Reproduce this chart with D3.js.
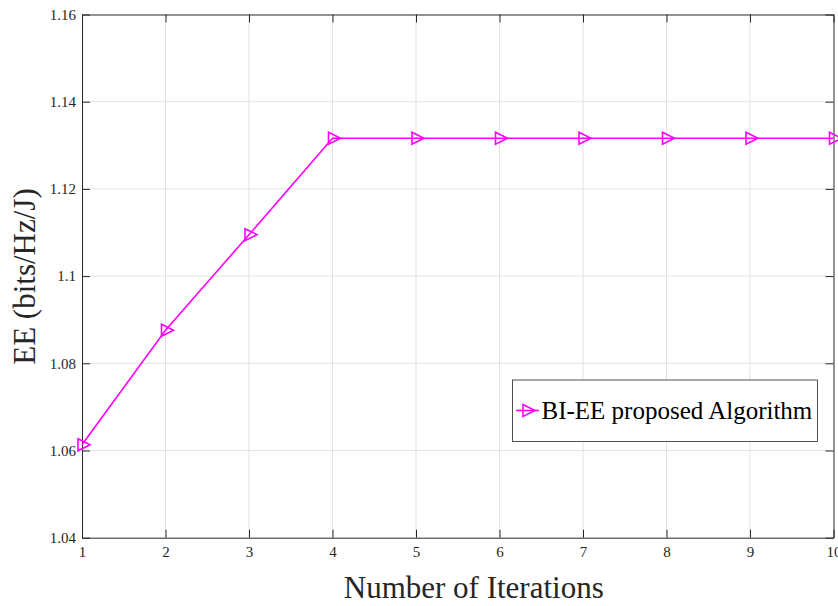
<!DOCTYPE html>
<html>
<head>
<meta charset="utf-8">
<script src="https://cdn.jsdelivr.net/npm/d3@7"></script>
<style>
  html, body { margin: 0; padding: 0; background: #fff; overflow: hidden; }
  svg { display: block; font-family: "Liberation Serif", "Times New Roman", serif; }
</style>
</head>
<body>
<svg id="chart" width="838" height="606"></svg>
<script>
// Energy efficiency of the BI-EE algorithm per iteration
const iterations = [1, 2, 3, 4, 5, 6, 7, 8, 9, 10];
const eeValues = [1.0613, 1.0876, 1.1095, 1.1316, 1.1316, 1.1316, 1.1316, 1.1316, 1.1316, 1.1316];
const xTicks = [1, 2, 3, 4, 5, 6, 7, 8, 9, 10];
const yTicks = [1.04, 1.06, 1.08, 1.10, 1.12, 1.14, 1.16];
const yTickLabels = ["1.04", "1.06", "1.08", "1.1", "1.12", "1.14", "1.16"];
const seriesName = "BI-EE proposed Algorithm";

const svg = d3.select("#chart");
const plot = { left: 82, right: 833.5, top: 14.5, bottom: 537.7 };
const color = "#ff00ff";
const axisColor = "#262626";
const serif = "Liberation Serif, Times New Roman, serif";

const x = d3.scaleLinear().domain([1, 10]).range([plot.left, plot.right]);
const y = d3.scaleLinear().domain([1.04, 1.16]).range([plot.bottom, plot.top]);

// grid
const grid = svg.append("g").attr("stroke", "#e3e3e3").attr("stroke-width", 1);
grid.selectAll(".gx").data(xTicks.slice(1, -1)).join("line")
  .attr("x1", d => x(d)).attr("x2", d => x(d))
  .attr("y1", plot.top).attr("y2", plot.bottom);
grid.selectAll(".gy").data(yTicks.slice(1, -1)).join("line")
  .attr("x1", plot.left).attr("x2", plot.right)
  .attr("y1", d => y(d)).attr("y2", d => y(d));

// axes with inward ticks
const fmtY = d => yTickLabels[yTicks.indexOf(d)];
const bottomAxis = d3.axisBottom(x).tickValues(xTicks).tickSizeInner(-8).tickSizeOuter(0).tickPadding(9).tickFormat(d3.format("d"));
const topAxis = d3.axisTop(x).tickValues(xTicks).tickSizeInner(-8).tickSizeOuter(0).tickFormat("");
const leftAxis = d3.axisLeft(y).tickValues(yTicks).tickSizeInner(-8).tickSizeOuter(0).tickPadding(6).tickFormat(fmtY);
const rightAxis = d3.axisRight(y).tickValues(yTicks).tickSizeInner(-8).tickSizeOuter(0).tickFormat("");

function styleAxis(g) {
  g.selectAll("path").attr("stroke", axisColor).attr("stroke-width", 1);
  g.selectAll("line").attr("stroke", axisColor).attr("stroke-width", 1);
  g.selectAll("text").attr("fill", "#262626").attr("font-size", 15).attr("font-family", serif);
}
svg.append("g").attr("transform", `translate(0,${plot.bottom})`).call(bottomAxis).call(styleAxis);
svg.append("g").attr("transform", `translate(0,${plot.top})`).call(topAxis).call(styleAxis);
svg.append("g").attr("transform", `translate(${plot.left},0)`).call(leftAxis).call(styleAxis);
svg.append("g").attr("transform", `translate(${plot.right},0)`).call(rightAxis).call(styleAxis);

// series line
const data = iterations.map((d, i) => ({ x: d, y: eeValues[i] }));
svg.append("path").datum(data)
  .attr("fill", "none").attr("stroke", color).attr("stroke-width", 1.6)
  .attr("d", d3.line().x(d => x(d.x)).y(d => y(d.y)));

// right-pointing triangle markers
const tri = "M-4,-6 L8,0 L-4,6 Z";
svg.append("g").selectAll("path").data(data).join("path")
  .attr("d", tri)
  .attr("transform", d => `translate(${x(d.x)},${y(d.y)})`)
  .attr("fill", "none").attr("stroke", color).attr("stroke-width", 1.6);

// legend
const lg = svg.append("g");
lg.append("rect").attr("x", 512.5).attr("y", 380).attr("width", 305).attr("height", 61.5)
  .attr("fill", "#fff").attr("stroke", axisColor).attr("stroke-width", 0.8);
lg.append("line").attr("x1", 516).attr("x2", 539).attr("y1", 410.5).attr("y2", 410.5)
  .attr("stroke", color).attr("stroke-width", 1.6);
lg.append("path").attr("d", tri).attr("transform", "translate(527,410.5)")
  .attr("fill", "none").attr("stroke", color).attr("stroke-width", 1.6);
lg.append("text").attr("x", 541.5).attr("y", 418.5).attr("font-size", 25).attr("fill", "#000")
  .attr("font-family", serif).text(seriesName);

// axis titles
svg.append("text").attr("x", (plot.left + plot.right) / 2 + 16).attr("y", 598)
  .attr("text-anchor", "middle").attr("font-size", 31).attr("fill", "#262626")
  .attr("font-family", serif).text("Number of Iterations");
svg.append("text").attr("transform", `translate(35,276.5) rotate(-90)`)
  .attr("text-anchor", "middle").attr("font-size", 31).attr("fill", "#262626")
  .attr("font-family", serif).text("EE (bits/Hz/J)");
</script>
</body>
</html>
